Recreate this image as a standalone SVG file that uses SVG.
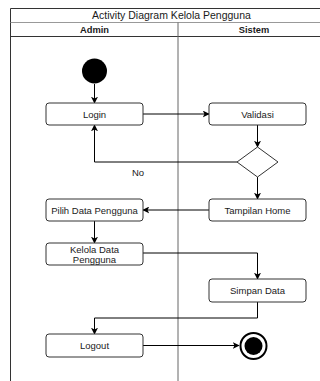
<svg xmlns="http://www.w3.org/2000/svg" width="320" height="381" viewBox="0 0 320 381">
<defs>
<marker id="arr" viewBox="0 0 10 10" refX="9" refY="5" markerWidth="7" markerHeight="7" markerUnits="userSpaceOnUse" orient="auto">
<path d="M0,0 L10,5 L0,10 L2.5,5 Z" fill="#000"/>
</marker>
<style>
.t{font-family:"Liberation Sans",Arial,sans-serif;font-size:9.5px;fill:#1a1a1a;text-anchor:middle}
.h{font-family:"Liberation Sans",Arial,sans-serif;font-size:9.3px;font-weight:bold;fill:#1a1a1a;text-anchor:middle}
.ti{font-family:"Liberation Sans",Arial,sans-serif;font-size:10.5px;fill:#1a1a1a;text-anchor:middle}
.box{fill:#fff;stroke:#333;stroke-width:1}
.c{fill:none;stroke:#000;stroke-width:1;marker-end:url(#arr)}
</style>
</defs>
<rect x="0" y="0" width="320" height="381" fill="#fff"/>
<g id="pool">
<path d="M10.5,381 V8.5 H334" fill="none" stroke="#333" stroke-width="1"/>
<line x1="10.5" y1="22.5" x2="334" y2="22.5" stroke="#999" stroke-width="1"/>
<line x1="10.5" y1="36.5" x2="334" y2="36.5" stroke="#333" stroke-width="1"/>
<line x1="178" y1="22.5" x2="178" y2="381" stroke="#666" stroke-width="1"/>
<text class="ti" x="171.5" y="19">Activity Diagram Kelola Pengguna</text>
<text class="h" x="94.5" y="33">Admin</text>
<text class="h" x="254" y="33">Sistem</text>
</g>
<g id="connectors">
<line class="c" x1="94.5" y1="84" x2="94.5" y2="103"/>
<line class="c" x1="143" y1="114" x2="209" y2="114"/>
<line class="c" x1="257.5" y1="125" x2="257.5" y2="147"/>
<path class="c" d="M237,162 H94.5 V125"/>
<text class="t" x="138" y="176">No</text>
<line class="c" x1="257.5" y1="177" x2="257.5" y2="199"/>
<line class="c" x1="209" y1="210" x2="143" y2="210"/>
<line class="c" x1="94.5" y1="221" x2="94.5" y2="243"/>
<path class="c" d="M143,253 H257.5 V279"/>
<path class="c" d="M257.5,302 V318 H94.5 V334"/>
<line class="c" x1="143" y1="345.5" x2="239" y2="345.5"/>
</g>
<g id="start"><circle cx="94.5" cy="71" r="12.5" fill="#000"/></g>
<g id="login"><rect class="box" x="46" y="103" width="97" height="22" rx="3"/><text class="t" x="94.5" y="117.5">Login</text></g>
<g id="validasi"><rect class="box" x="209" y="103" width="97" height="22" rx="3"/><text class="t" x="257.5" y="117.5">Validasi</text></g>
<g id="decision"><polygon points="257.5,147 278,162 257.5,177 237,162" fill="#fff" stroke="#333" stroke-width="1"/></g>
<g id="tampilan"><rect class="box" x="209" y="199" width="97" height="22" rx="3"/><text class="t" x="257.5" y="213.5">Tampilan Home</text></g>
<g id="pilih"><rect class="box" x="46" y="199" width="97" height="22" rx="3"/><text class="t" x="94.5" y="213.5">Pilih Data Pengguna</text></g>
<g id="kelola"><rect class="box" x="46" y="243" width="97" height="22" rx="3"/><text class="t" x="94.5" y="252.5">Kelola Data</text><text class="t" x="94.5" y="263">Pengguna</text></g>
<g id="simpan"><rect class="box" x="209" y="279" width="97" height="23" rx="3"/><text class="t" x="257.5" y="294">Simpan Data</text></g>
<g id="logout"><rect class="box" x="46" y="334" width="97" height="23" rx="3"/><text class="t" x="94.5" y="349">Logout</text></g>
<g id="end"><circle cx="253.5" cy="346" r="13" fill="#fff" stroke="#000" stroke-width="2"/><circle cx="253.5" cy="346" r="9" fill="#000"/></g>
</svg>
